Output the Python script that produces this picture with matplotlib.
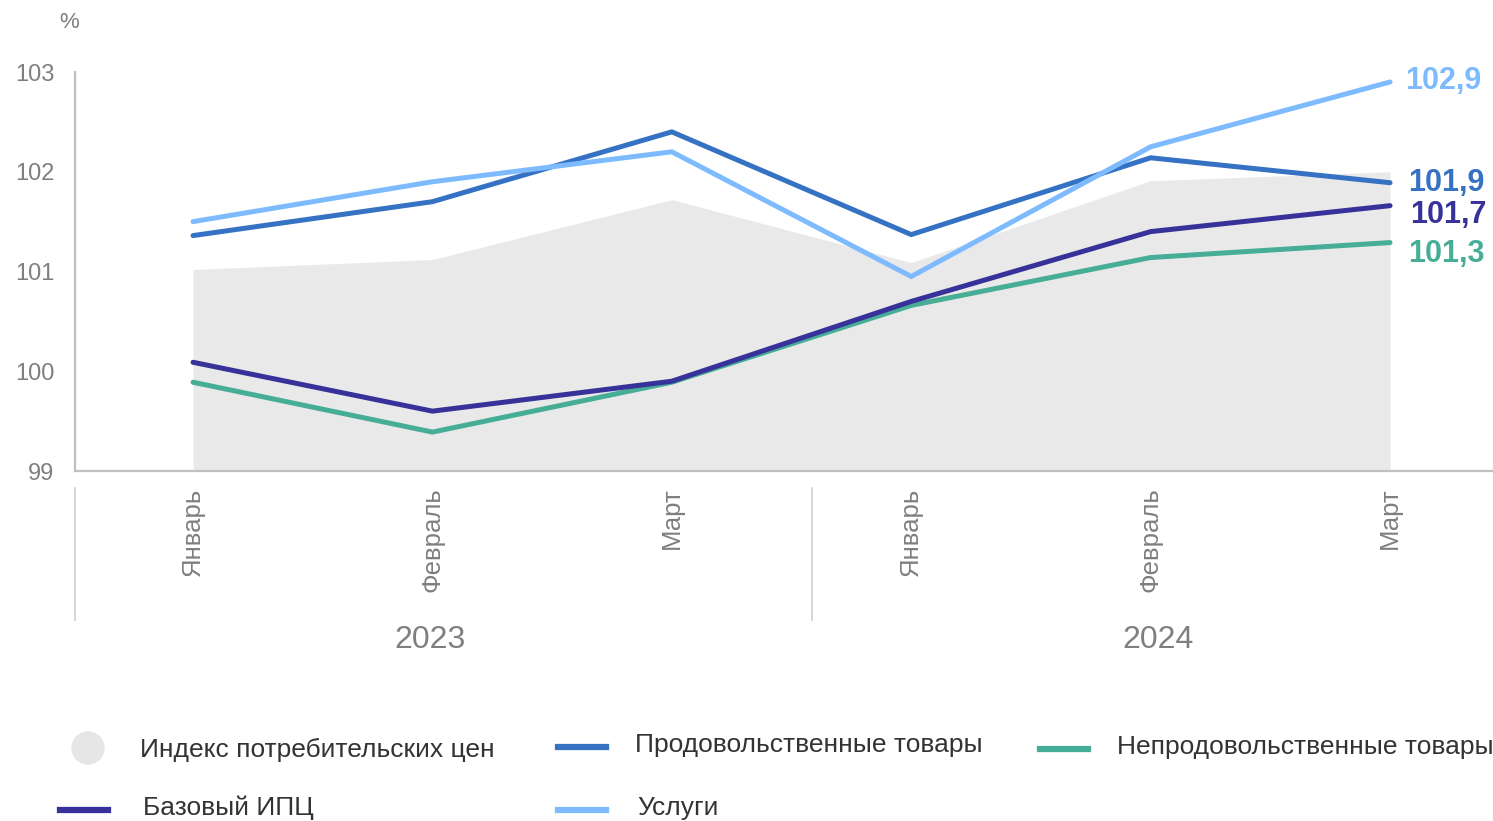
import matplotlib.pyplot as plt
from matplotlib.lines import Line2D
from matplotlib.patches import Ellipse

# data
months = ['Январь', 'Февраль', 'Март', 'Январь', 'Февраль', 'Март']
years = ['2023', '2024']
cpi = [101.02, 101.12, 101.72, 101.09, 101.91, 102.0]
food = [101.36, 101.70, 102.40, 101.37, 102.14, 101.89]
nonfood = [99.89, 99.39, 99.89, 100.66, 101.14, 101.29]
core = [100.09, 99.60, 99.90, 100.70, 101.40, 101.66]
services = [101.50, 101.90, 102.20, 100.95, 102.25, 102.90]
end_labels = ['101,9', '101,3', '101,7', '102,9']

W, H = 1493, 821
GREY_TXT = '#7F7F7F'
AXIS = '#BFBFBF'
c_cpi = '#E9E9E9'
c_food = '#3572C4'
c_nonfood = '#46AD97'
c_core = '#37319A'
c_serv = '#7EBBFE'

plt.rcParams['font.family'] = ['Liberation Sans', 'DejaVu Sans']

fig = plt.figure(figsize=(W / 100, H / 100), dpi=100)


def fx(px):
    return px / W


def fy(py):
    return 1 - py / H


ax = fig.add_axes([fx(75), fy(471), fx(W - 75), fy(72) - fy(471)])
x = list(range(len(months)))

ax.fill_between(x, 99, cpi, color=c_cpi, lw=0, zorder=1)
series = [(food, c_food), (nonfood, c_nonfood), (core, c_core), (services, c_serv)]
for vals, col in series:
    ax.plot(x, vals, color=col, lw=3.6, solid_capstyle='round', solid_joinstyle='miter',
            zorder=3, clip_on=False)

# end labels
offsets = [(18, 0), (18, -11), (20, -9), (15, 1)]
for (vals, col), lab, off in zip(series, end_labels, offsets):
    ax.annotate(lab, (x[-1], vals[-1]), xytext=off, textcoords='offset pixels',
                color=col, fontsize=22, fontweight='bold', ha='left', va='center')

ax.set_xlim(-0.493, 5.43)
ax.set_ylim(99, 103)
ax.set_yticks([99, 100, 101, 102, 103])
ax.tick_params(axis='y', length=0, pad=15, labelsize=17, labelcolor=GREY_TXT)
ax.set_xticks(x)
ax.set_xticklabels(months, rotation=90, fontsize=18.5, color=GREY_TXT)
ax.tick_params(axis='x', length=0, pad=12)
for s in ['top', 'right']:
    ax.spines[s].set_visible(False)
for s in ['left', 'bottom']:
    ax.spines[s].set_color(AXIS)
    ax.spines[s].set_linewidth(1.6)

# year groups
for sx in [75, 812]:
    fig.add_artist(Line2D([fx(sx), fx(sx)], [fy(488), fy(620)], color='#D0D0D0', lw=1.2))
for yr, cx in zip(years, [430, 1158]):
    fig.text(fx(cx), fy(640), yr, ha='center', va='center', fontsize=23, color=GREY_TXT)

fig.text(fx(69), fy(22), '%', ha='center', va='center', fontsize=16, color=GREY_TXT)

# legend
fig.add_artist(Ellipse((fx(88), fy(748)), fx(32), fy(0) - fy(32), color='#E6E6E6'))
fig.text(fx(140), fy(750), 'Индекс потребительских цен', va='center', fontsize=19, color='#333333')
leg = [
    (558, 745, c_food, 'Продовольственные товары', 635),
    (1040, 747, c_nonfood, 'Непродовольственные товары', 1117),
    (60, 808, c_core, 'Базовый ИПЦ', 143),
    (558, 808, c_serv, 'Услуги', 637),
]
for lx, ly, col, lab, tx in leg:
    fig.add_artist(Line2D([fx(lx), fx(lx + 48)], [fy(ly + 2), fy(ly + 2)], color=col, lw=4.5))
    fig.text(fx(tx), fy(ly), lab, va='center', fontsize=19, color='#333333')

fig.savefig('out.png', dpi=100)
